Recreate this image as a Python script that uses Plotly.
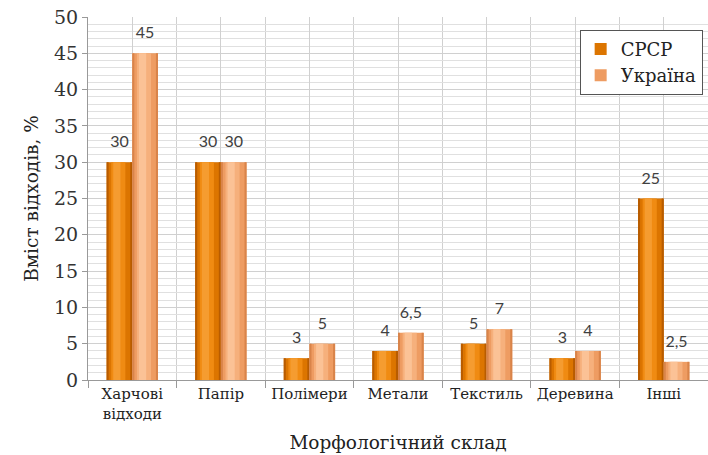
import plotly.graph_objects as go

categories = ["Харчові<br>відходи", "Папір", "Полімери", "Метали", "Текстиль", "Деревина", "Інші"]
ussr = [30, 30, 3, 4, 5, 3, 25]
ukraine = [45, 30, 5, 6.5, 7, 4, 2.5]
series_names = ["СРСР", "Україна"]

x = list(range(len(categories)))
bar_w = 0.29
SERIF = "DejaVu Serif"

# (values, name, offset, layered shades from edge to centre highlight)
series = [
    (ussr, series_names[0], -bar_w, ["#B85C00", "#DC7500", "#F08B12", "#F59C30"]),
    (ukraine, series_names[1], 0.0, ["#D9844A", "#EE9C62", "#F6B07C", "#FBC296"]),
]

fig = go.Figure()
for vals, name, off, shades in series:
    # base bar carries the legend entry
    fig.add_trace(go.Bar(
        x=x, y=vals, name=name, offset=off, width=bar_w,
        marker=dict(color=shades[1], line=dict(width=0)),
    ))
    # darker edges and lighter centre strips for a rounded look
    fracs = [(0.0, 0.08), (0.92, 0.08), (0.18, 0.55), (0.26, 0.28)]
    cols = [shades[0], shades[0], shades[2], shades[3]]
    for (start, frac), col in zip(fracs, cols):
        fig.add_trace(go.Bar(
            x=x, y=vals, offset=off + bar_w * start, width=bar_w * frac,
            marker=dict(color=col, line=dict(width=0)),
            showlegend=False, hoverinfo="skip",
        ))
    # value labels above each bar
    fig.add_trace(go.Scatter(
        x=[i + off + bar_w / 2 for i in x], y=vals, mode="markers+text",
        text=[f"{v:g}".replace(".", ",") for v in vals],
        textposition="top center",
        textfont=dict(family="Lato", size=16, color="#404040"),
        marker=dict(size=16, opacity=0),
        showlegend=False, hoverinfo="skip", cliponaxis=False,
    ))

fig.update_layout(
    width=708, height=455,
    margin=dict(l=88, r=0, t=17, b=75),
    paper_bgcolor="white", plot_bgcolor="white",
    barmode="overlay",
    font=dict(family=SERIF, color="#333333"),
    legend=dict(
        x=0.793, y=0.965, xanchor="left", yanchor="top",
        bordercolor="#555555", borderwidth=1, bgcolor="white",
        font=dict(family=SERIF, size=18, color="#222222"),
        itemwidth=30, tracegroupgap=0,
    ),
)

fig.update_xaxes(
    range=[-0.5, len(categories) - 0.5],
    tickmode="array", tickvals=x, ticktext=categories,
    tickfont=dict(family=SERIF, size=15, color="#222222"),
    ticks="", showgrid=True, gridcolor="#D0D0D0", gridwidth=1,
    minor=dict(tickvals=[i - 0.5 for i in range(len(categories) + 1)],
               ticks="outside", ticklen=7, tickcolor="#999999",
               showgrid=True, gridcolor="#D0D0D0"),
    showline=True, linecolor="#999999", linewidth=1,
    title=dict(text="Морфологічний склад", font=dict(family=SERIF, size=18.5, color="#222222"), standoff=14),
    zeroline=False,
)

fig.update_yaxes(
    range=[0, 50], dtick=5, tick0=0,
    tickfont=dict(family=SERIF, size=19, color="#333333"),
    ticks="outside", ticklen=5, tickcolor="#999999",
    showgrid=True, gridcolor="#D0D0D0", gridwidth=1,
    minor=dict(dtick=1, showgrid=True, gridcolor="#E0E0E0"),
    showline=True, linecolor="#999999", linewidth=1,
    title=dict(text="Вміст відходів, %", font=dict(family=SERIF, size=18.5, color="#222222"), standoff=10),
    zeroline=False,
)

fig.write_html("out.html")
